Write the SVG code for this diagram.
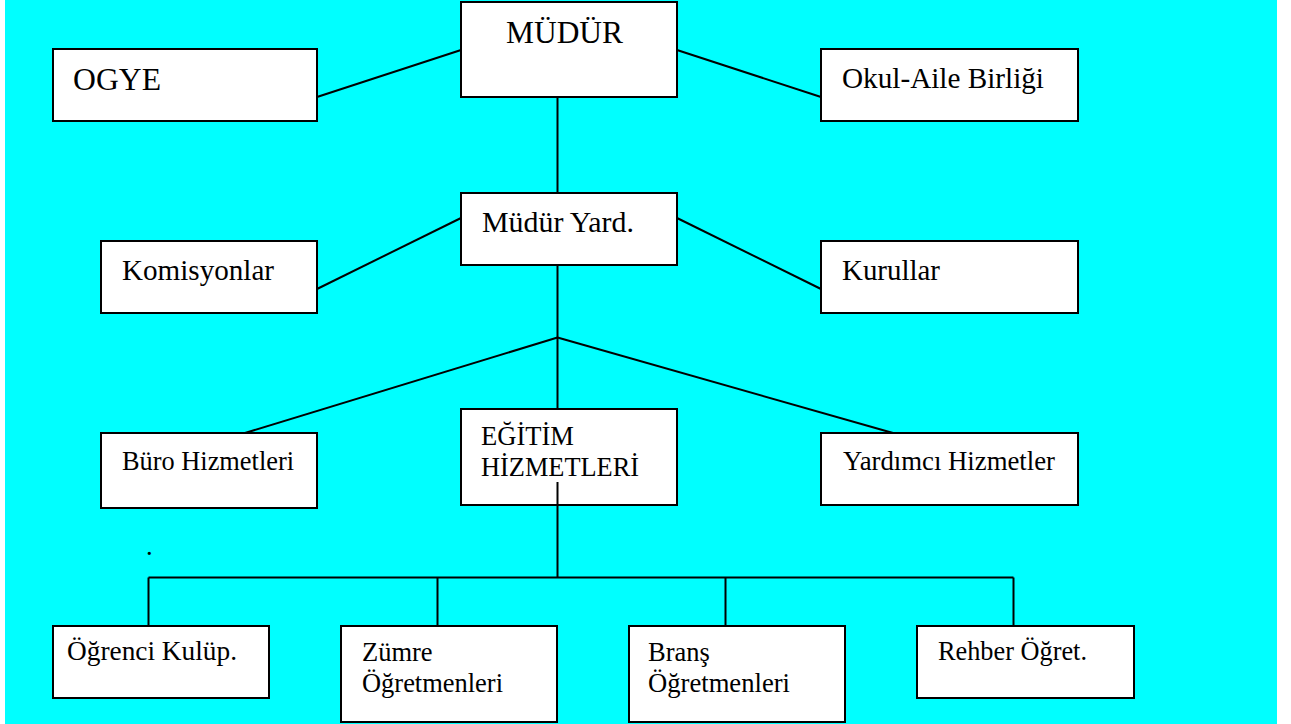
<svg xmlns="http://www.w3.org/2000/svg" width="1291" height="724" viewBox="0 0 1291 724" font-family="'Liberation Serif', 'Times New Roman', serif">
<style>
.box{fill:#ffffff;stroke:#000000;stroke-width:2}
.ln{stroke:#000000;stroke-width:2;fill:none}
text{fill:#000000}
.big{font-size:31.5px}
.mid{font-size:29px}
.sm{font-size:26.5px}
</style>
<rect x="0" y="0" width="1291" height="724" fill="#ffffff"/>
<rect x="5" y="0" width="1272" height="724" fill="#00ffff"/>
<g id="connectors">
<line class="ln" x1="317" y1="97" x2="461" y2="50"/>
<line class="ln" x1="677" y1="50" x2="821" y2="97"/>
<line class="ln" x1="557.5" y1="97" x2="557.5" y2="193"/>
<line class="ln" x1="317" y1="289" x2="461" y2="218"/>
<line class="ln" x1="677" y1="218" x2="821" y2="289"/>
<line class="ln" x1="557.5" y1="265" x2="557.5" y2="409"/>
<line class="ln" x1="557.5" y1="337.5" x2="245" y2="433"/>
<line class="ln" x1="557.5" y1="337.5" x2="893" y2="433"/>
<line class="ln" x1="148.5" y1="577.5" x2="1013.5" y2="577.5"/>
<line class="ln" x1="148.5" y1="577.5" x2="148.5" y2="626"/>
<line class="ln" x1="437.5" y1="577.5" x2="437.5" y2="626"/>
<line class="ln" x1="725.5" y1="577.5" x2="725.5" y2="626"/>
<line class="ln" x1="1013.5" y1="577.5" x2="1013.5" y2="626"/>
</g>
<g id="ogye"><rect class="box" x="53" y="49" width="264" height="72"/><text class="big" x="73" y="90" textLength="88" lengthAdjust="spacingAndGlyphs">OGYE</text></g>
<g id="mudur"><rect class="box" x="461" y="2" width="216" height="95"/><text class="big" x="506" y="43" textLength="117" lengthAdjust="spacingAndGlyphs">MÜDÜR</text></g>
<g id="okul-aile"><rect class="box" x="821" y="49" width="257" height="72"/><text class="mid" x="842" y="88" textLength="202" lengthAdjust="spacingAndGlyphs">Okul-Aile Birliği</text></g>
<g id="mudur-yard"><rect class="box" x="461" y="193" width="216" height="72"/><text class="mid" x="482" y="232" textLength="152" lengthAdjust="spacingAndGlyphs">Müdür Yard.</text></g>
<g id="komisyonlar"><rect class="box" x="101" y="241" width="216" height="72"/><text class="mid" x="122" y="280" textLength="152" lengthAdjust="spacingAndGlyphs">Komisyonlar</text></g>
<g id="kurullar"><rect class="box" x="821" y="241" width="257" height="72"/><text class="mid" x="842" y="280" textLength="98" lengthAdjust="spacingAndGlyphs">Kurullar</text></g>
<g id="buro"><rect class="box" x="101" y="433" width="216" height="75"/><text class="sm" x="122" y="470" textLength="172" lengthAdjust="spacingAndGlyphs">Büro Hizmetleri</text></g>
<g id="egitim"><rect class="box" x="461" y="409" width="216" height="96"/><text class="sm" x="481" y="445" textLength="93" lengthAdjust="spacingAndGlyphs">EĞİTİM</text><text class="sm" x="481" y="476" textLength="158" lengthAdjust="spacingAndGlyphs">HİZMETLERİ</text><line class="ln" x1="557.5" y1="482" x2="557.5" y2="577.5"/></g>
<g id="yardimci"><rect class="box" x="821" y="433" width="257" height="72"/><text class="sm" x="843" y="470" textLength="212" lengthAdjust="spacingAndGlyphs">Yardımcı Hizmetler</text></g>
<text class="sm" x="146" y="555">.</text>
<g id="ogrenci"><rect class="box" x="53" y="626" width="216" height="72"/><text class="sm" x="67" y="660" textLength="170" lengthAdjust="spacingAndGlyphs">Öğrenci Kulüp.</text></g>
<g id="zumre"><rect class="box" x="341" y="626" width="216" height="96"/><text class="sm" x="362" y="661">Zümre</text><text class="sm" x="362" y="692" textLength="141" lengthAdjust="spacingAndGlyphs">Öğretmenleri</text></g>
<g id="brans"><rect class="box" x="629" y="626" width="216" height="96"/><text class="sm" x="648" y="661">Branş</text><text class="sm" x="648" y="692" textLength="142" lengthAdjust="spacingAndGlyphs">Öğretmenleri</text></g>
<g id="rehber"><rect class="box" x="917" y="626" width="217" height="72"/><text class="sm" x="938" y="660" textLength="149" lengthAdjust="spacingAndGlyphs">Rehber Öğret.</text></g>
</svg>
